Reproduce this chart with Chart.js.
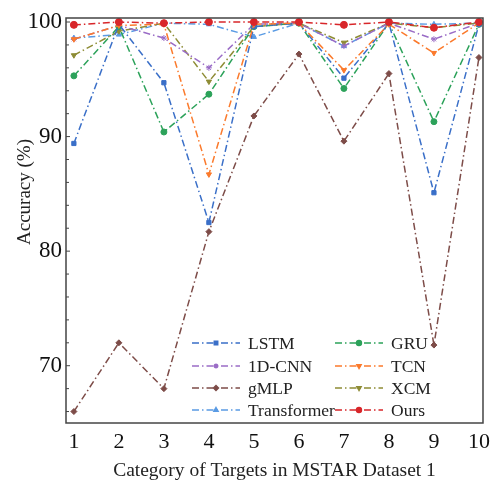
<!DOCTYPE html>
<html>
<head>
<meta charset="utf-8">
<script src="https://cdn.jsdelivr.net/npm/chart.js@4"></script>
<style>
  body { margin: 0; background: #fff; }
</style>
</head>
<body>
<canvas id="accChart" width="496" height="483"></canvas>
<script>
const categories = [1, 2, 3, 4, 5, 6, 7, 8, 9, 10];
const lstm = [89.4, 99.8, 94.7, 82.5, 99.6, 99.9, 95.1, 99.9, 85.1, 99.8];
const gru = [95.3, 99.6, 90.4, 93.7, 99.6, 99.9, 94.2, 99.9, 91.3, 99.8];
const cnn1d = [98.5, 99.7, 98.6, 96.0, 99.8, 99.9, 97.9, 99.9, 98.5, 99.9];
const tcn = [98.5, 99.7, 99.8, 86.7, 99.8, 99.9, 95.8, 99.8, 97.3, 99.9];
const gmlp = [66.0, 72.0, 68.0, 81.7, 91.8, 97.2, 89.6, 95.5, 71.8, 96.9];
const xcm = [97.1, 99.2, 99.9, 94.8, 99.6, 99.9, 98.2, 99.9, 99.5, 99.9];
const transformer = [98.6, 98.9, 99.9, 99.8, 98.7, 99.9, 97.9, 99.9, 99.8, 99.9];
const ours = [99.75, 100, 99.9, 100, 100, 100, 99.75, 100, 99.5, 100];
const yTicks = [70, 80, 90, 100];

const serif = "'Liberation Serif', 'DejaVu Serif', serif";
const dashDot = [7, 3, 1.5, 3];

// legend is row-major: LSTM | GRU, 1D-CNN | TCN, gMLP | XCM, Transformer | Ours
const series = [
  { label: 'LSTM', values: lstm, color: '#3a6fc8', style: 'rect', order: 3 },
  { label: 'GRU', values: gru, color: '#2ca25a', style: 'circle', order: 4 },
  { label: '1D-CNN', values: cnn1d, color: '#9a6cc6', style: 'star', order: 5 },
  { label: 'TCN', values: tcn, color: '#fb7a2c', style: 'triangle', rot: 180, order: 2 },
  { label: 'gMLP', values: gmlp, color: '#7d4c48', style: 'rectRot', order: 8 },
  { label: 'XCM', values: xcm, color: '#8e8c35', style: 'triangle', rot: 180, order: 6 },
  { label: 'Transformer', values: transformer, color: '#5a9be4', style: 'triangle', order: 7 },
  { label: 'Ours', values: ours, color: '#d8262a', style: 'circle', order: 0 }
];

const datasets = series.map(s => ({
  label: s.label,
  data: s.values.map((v, i) => ({ x: categories[i], y: v })),
  borderColor: s.color,
  backgroundColor: s.color,
  borderWidth: 1.5,
  borderDash: dashDot,
  pointStyle: s.style,
  pointRotation: s.rot || 0,
  pointRadius: s.label === 'Ours' ? 3.5 : 3,
  pointBorderWidth: 1,
  tension: 0,
  order: s.order
}));

// frame around the plot, inward y ticks (majors every 10, minors every 2), y title
const frame = {
  id: 'frame',
  afterDraw(chart) {
    const { ctx, chartArea: a, scales } = chart;
    ctx.save();
    ctx.strokeStyle = '#444';
    ctx.lineWidth = 1.5;
    ctx.strokeRect(a.left, a.top, a.right - a.left, a.bottom - a.top);
    ctx.lineWidth = 1;
    for (let v = 66; v <= 100; v += 2) {
      const y = scales.y.getPixelForValue(v);
      const len = v % 10 === 0 ? 4 : 3;
      ctx.beginPath();
      ctx.moveTo(a.left, y);
      ctx.lineTo(a.left + len, y);
      ctx.stroke();
    }
    ctx.translate(25, 192);
    ctx.rotate(-Math.PI / 2);
    ctx.font = '19px ' + serif;
    ctx.fillStyle = '#222';
    ctx.textAlign = 'center';
    ctx.textBaseline = 'middle';
    ctx.fillText('Accuracy (%)', 0, 0);
    ctx.restore();
  }
};

// two-column legend inside the lower right of the plot
const legendBox = {
  id: 'legendBox',
  afterDraw(chart) {
    const { ctx } = chart;
    const cols = [192, 335];
    const rows = [343, 366, 388, 410];
    ctx.save();
    ctx.font = '17.5px ' + serif;
    ctx.textBaseline = 'middle';
    series.forEach((s, i) => {
      const x = cols[i % 2];
      const y = rows[Math.floor(i / 2)];
      ctx.strokeStyle = s.color;
      ctx.lineWidth = 1.4;
      ctx.setLineDash(dashDot);
      ctx.beginPath();
      ctx.moveTo(x, y);
      ctx.lineTo(x + 48, y);
      ctx.stroke();
      ctx.setLineDash([]);
      ctx.fillStyle = s.color;
      Chart.helpers.drawPoint(ctx, {
        pointStyle: s.style, rotation: s.rot || 0, radius: 2.5, borderWidth: 1
      }, x + 24, y);
      ctx.fillStyle = '#222';
      ctx.fillText(s.label, x + 56, y + 1);
    });
    ctx.restore();
  }
};

new Chart(document.getElementById('accChart'), {
  type: 'line',
  data: { datasets },
  options: {
    responsive: false,
    animation: false,
    layout: { padding: { top: 18, right: 6, left: 0, bottom: 0 } },
    plugins: {
      legend: { display: false },
      tooltip: { enabled: false }
    },
    scales: {
      x: {
        type: 'linear',
        min: 0.825,
        max: 10.09,
        grid: { display: false, drawTicks: false },
        border: { display: false },
        afterBuildTicks: scale => { scale.ticks = categories.map(v => ({ value: v })); },
        ticks: {
          padding: 6,
          color: '#111',
          font: { family: serif, size: 22 },
          maxRotation: 0
        },
        title: {
          display: true,
          text: 'Category of Targets in MSTAR Dataset 1',
          color: '#222',
          font: { family: serif, size: 19.5 },
          padding: { top: 0, bottom: 0 }
        },
        afterFit: scale => { scale.height = 60; }
      },
      y: {
        min: 65,
        max: 100.35,
        grid: { display: false, drawTicks: false },
        border: { display: false },
        afterBuildTicks: scale => { scale.ticks = yTicks.map(v => ({ value: v })); },
        ticks: {
          padding: 4,
          color: '#111',
          font: { family: serif, size: 23 }
        },
        afterFit: scale => { scale.width = 66; }
      }
    }
  },
  plugins: [frame, legendBox]
});
</script>
</body>
</html>
